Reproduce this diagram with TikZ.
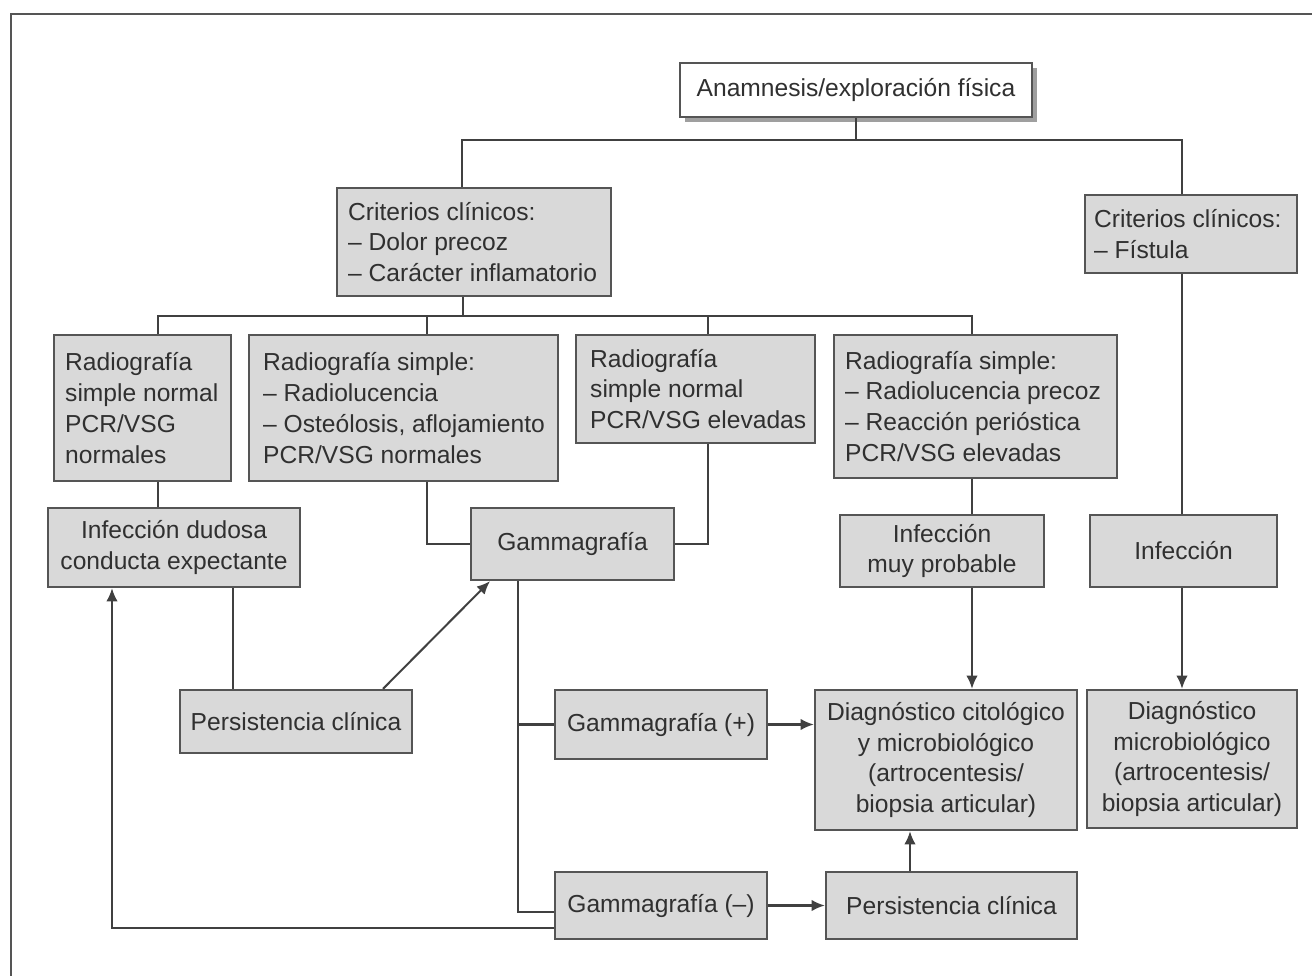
\documentclass[tikz,border=0pt]{standalone}
\usepackage{fontspec}
\setmainfont{Liberation Sans}
\usetikzlibrary{arrows.meta,shadows,calc}
\definecolor{boxfill}{HTML}{D9D9D9}
\definecolor{boxline}{HTML}{555555}
\definecolor{linecol}{HTML}{404040}
\definecolor{txtcol}{HTML}{303030}
\tikzset{
  gbox/.style={draw=boxline, line width=1.3pt, fill=boxfill, text=txtcol, inner ysep=2pt,
    font=\fontsize{14}{17.6}\selectfont},
  wbox/.style={gbox, fill=white, drop shadow={shadow xshift=2.6pt, shadow yshift=-2.6pt, fill=gray!75, opacity=1}},
  txtonly/.style={text=txtcol, inner sep=0pt, align=left, anchor=west,
    font=\fontsize{14}{17.6}\selectfont},
  ln/.style={draw=linecol, line width=1.15pt},
  arr/.style={ln, -{Latex[length=7.5pt,width=6.5pt]}},
  frameline/.style={draw=boxline, line width=1.2pt}
}
\newcommand\mycbox[7]{%
  \pgfmathsetmacro\mybw{(#4-#2)*0.02}%
  \pgfmathsetmacro\mybh{(#5-#3)*0.02}%
  \node[#6, align=center, inner xsep=2pt, minimum width=\mybw cm, minimum height=\mybh cm] (#1) at ({(#2+#4)/2},{(#3+#5)/2}) {#7};
}
% left-aligned box: empty box node plus a text node anchored at its west side
\newcommand\mylbox[8]{%
  \pgfmathsetmacro\mybw{(#4-#2)*0.02}%
  \pgfmathsetmacro\mybh{(#5-#3)*0.02}%
  \node[#6, inner sep=0pt, minimum width=\mybw cm, minimum height=\mybh cm] (#1) at ({(#2+#4)/2},{(#3+#5)/2}) {};
  \node[txtonly] (#1-t) at ($(#1.west)+(#7,0)$) {#8};
}
\begin{document}
\begin{tikzpicture}[x=0.02cm,y=-0.02cm]
\useasboundingbox (0,0) rectangle (1312,976);
\draw[frameline] (1320,14) -- (11,14) -- (11,990);

% boxes
\mycbox{anam}{680}{63}{1032}{117}{wbox}{Anamnesis/exploración física}
\mylbox{critA}{337}{188}{611}{296}{gbox}{12}{Criterios clínicos:\\– Dolor precoz\\– Carácter inflamatorio}
\mylbox{critB}{1085}{195}{1297}{273}{gbox}{10}{Criterios clínicos:\\– Fístula}
\mylbox{radA}{54}{335}{231}{481}{gbox}{12}{Radiografía\\simple normal\\PCR/VSG\\normales}
\mylbox{radB}{249}{335}{558}{481}{gbox}{15}{Radiografía simple:\\– Radiolucencia\\– Osteólosis, aflojamiento\\PCR/VSG normales}
\mylbox{radC}{576}{335}{815}{443}{gbox}{15}{Radiografía\\simple normal\\PCR/VSG elevadas}
\mylbox{radD}{834}{335}{1117}{478}{gbox}{12}{Radiografía simple:\\– Radiolucencia precoz\\– Reacción perióstica\\PCR/VSG elevadas}
\mycbox{infdud}{48}{508}{300}{587}{gbox}{Infección dudosa\\conducta expectante}
\mycbox{gamma}{471}{508}{674}{580}{gbox}{Gammagrafía}
\mycbox{infmuy}{840}{515}{1044}{587}{gbox}{Infección\\muy probable}
\mycbox{inf}{1090}{515}{1277}{587}{gbox}{Infección}
\mycbox{persA}{180}{690}{412}{753}{gbox}{Persistencia clínica}
\mycbox{gpos}{555}{690}{767}{759}{gbox}{Gammagrafía (+)}
\mycbox{diagcit}{815}{690}{1077}{830}{gbox}{Diagnóstico citológico\\y microbiológico\\(artrocentesis/\\biopsia articular)}
\mycbox{diagmic}{1087}{690}{1297}{828}{gbox}{Diagnóstico\\microbiológico\\(artrocentesis/\\biopsia articular)}
\mycbox{gneg}{555}{872}{767}{939}{gbox}{Gammagrafía (–)}
\mycbox{persB}{826}{872}{1077}{939}{gbox}{Persistencia clínica}

% junction coordinates
\coordinate (jL) at (462,140);
\coordinate (jR) at (1182,140);
\coordinate (k0) at (463,316);
\coordinate (kA) at (158,316);
\coordinate (kB) at (427,316);
\coordinate (kC) at (708,316);
\coordinate (kD) at (972,316);
\coordinate (p1) at (233,0);
\coordinate (p2) at (383,0);
\coordinate (p3) at (490,0);
\coordinate (g1) at (518,912);
\coordinate (p4) at (910,0);
\coordinate (q) at (112,928);

% connectors
\draw[ln] (anam.south) -- (anam.south |- jL);
\draw[ln] (critA.north -| jL) -- (jL) -- (jR) -- (critB.north -| jR);
\draw[ln] (critA.south -| k0) -- (k0);
\draw[ln] (radA.north -| kA) -- (kA) -- (kD) -- (radD.north -| kD);
\draw[ln] (radB.north -| kB) -- (kB);
\draw[ln] (radC.north -| kC) -- (kC);
\draw[ln] (radA.south -| kA) -- (infdud.north -| kA);
\draw[ln] (radB.south -| kB) |- (gamma.west);
\draw[ln] (radC.south -| kC) |- (gamma.east);
\draw[ln] (radD.south -| kD) -- (infmuy.north -| kD);
\draw[arr] (infmuy.south -| kD) -- (diagcit.north -| kD);
\draw[ln] (critB.south -| jR) -- (inf.north -| jR);
\draw[arr] (inf.south -| jR) -- (diagmic.north -| jR);
\draw[ln] (infdud.south -| p1) -- (persA.north -| p1);
\draw[arr] (persA.north -| p2) -- (gamma.south -| p3);
\draw[ln] (gamma.south -| g1) -- (g1) -- (gneg.west |- g1);
\draw[ln] (g1 |- gpos.west) -- (gpos.west);
\draw[arr] (gpos.east) -- (diagcit.west |- gpos.east);
\draw[arr] (gneg.east) -- (persB.west |- gneg.east);
\draw[arr] (persB.north -| p4) -- (diagcit.south -| p4);
\draw[arr] (gneg.west |- q) -- (q) -- (infdud.south -| q);
\end{tikzpicture}
\end{document}
